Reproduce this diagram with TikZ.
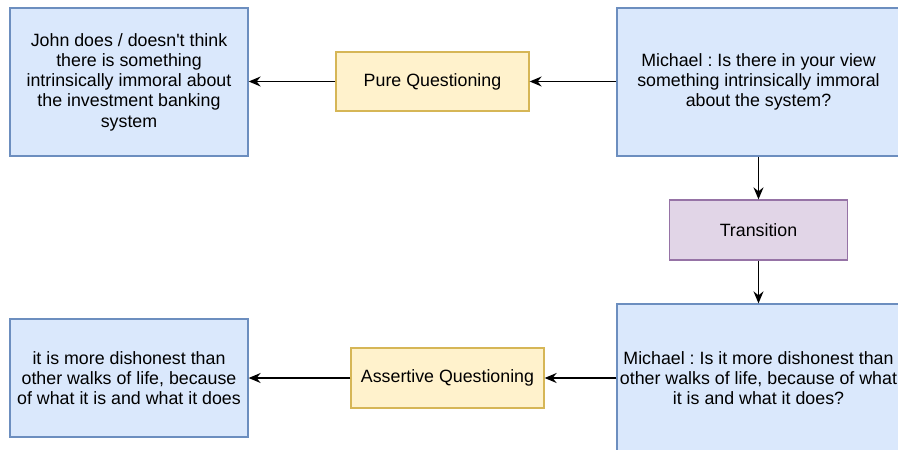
\documentclass[tikz,border=0pt]{standalone}
\usepackage{fontspec}
\setmainfont{Liberation Sans}
\usetikzlibrary{arrows.meta}
\frenchspacing
\definecolor{bluefill}{HTML}{DAE8FC}
\definecolor{blueline}{HTML}{6C8EBF}
\definecolor{yellowfill}{HTML}{FFF2CC}
\definecolor{yellowline}{HTML}{D6B656}
\definecolor{purplefill}{HTML}{E1D5E7}
\definecolor{purpleline}{HTML}{9673A6}
\tikzset{
  box/.style={draw, line width=1.3pt, inner sep=0pt, align=center,
    font=\fontsize{17.8}{20.3}\selectfont},
  bluebox/.style={box, fill=bluefill, draw=blueline},
  yellowbox/.style={box, fill=yellowfill, draw=yellowline},
  purplebox/.style={box, fill=purplefill, draw=purpleline},
  link/.style={draw=black, line width=1.4pt,
    -{Stealth[length=12pt, width=10pt, inset=4pt]}}
}
\begin{document}
\begin{tikzpicture}[x=1pt, y=1pt]
\useasboundingbox (0,0) rectangle (898,-450);
\clip (0,0) rectangle (898,-450);
\fill[white] (0,0) rectangle (898,-450);

% Top row
\node[bluebox, minimum width=238pt, minimum height=148pt] (john) at (129,-82)
  {John does / doesn\textquotesingle t think\\there is something\\intrinsically immoral about\\the investment banking\\system};
\node[yellowbox, minimum width=193pt, minimum height=59pt] (pure) at (432.5,-81.5)
  {Pure Questioning};
\node[bluebox, minimum width=283pt, minimum height=148pt] (michaelA) at (758.5,-82)
  {Michael : Is there in your view\\something intrinsically immoral\\about the system?};

% Middle
\node[purplebox, minimum width=178pt, minimum height=60pt] (trans) at (758.5,-230)
  {Transition};

% Bottom row
\node[bluebox, minimum width=238pt, minimum height=118pt] (dishonest) at (129,-378)
  {it is more dishonest than\\other walks of life, because\\of what it is and what it does};
\node[yellowbox, minimum width=193pt, minimum height=60pt] (assert) at (447.5,-378)
  {Assertive Questioning};
\node[bluebox, minimum width=283pt, minimum height=148pt] (michaelB) at (758.5,-378)
  {Michael : Is it more dishonest than\\other walks of life, because of what\\it is and what it does?};

% Connectors
\draw[link] (michaelA.west |- pure.east) -- (pure.east);
\draw[link] (pure.west) -- (john.east |- pure.west);
\draw[link] (michaelA.south) -- (trans.north);
\draw[link] (trans.south) -- (michaelB.north);
\draw[link] (michaelB.west) -- (assert.east);
\draw[link] (assert.west) -- (dishonest.east);
\end{tikzpicture}
\end{document}
